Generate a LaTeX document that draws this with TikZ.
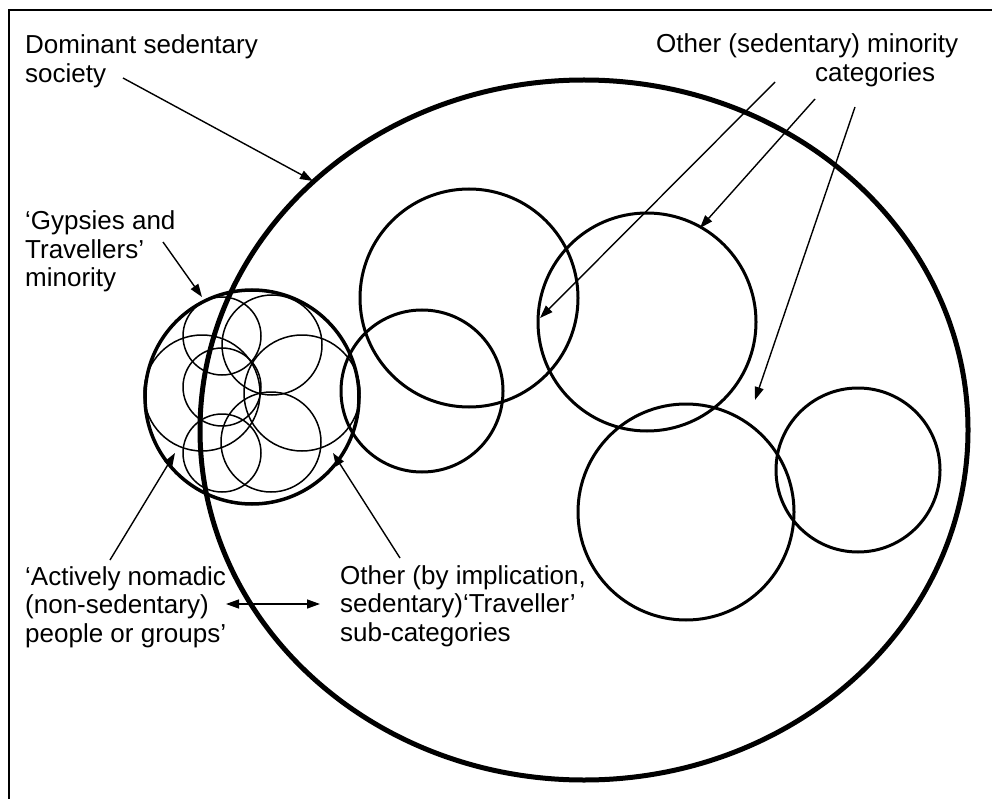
\documentclass[tikz,border=0pt]{standalone}
\usepackage{fontspec}
\setmainfont{Liberation Sans}
\usetikzlibrary{arrows.meta}
\begin{document}
\begin{tikzpicture}[x=1pt,y=-1pt,
  lbl/.style={anchor=base west, inner sep=0pt, font=\fontsize{26}{28.5}\selectfont},
  pointer/.style={line width=1.4pt, -{Triangle[length=13pt,width=9pt]}},
  twoway/.style={line width=1.4pt, {Triangle[length=13pt,width=9pt]}-{Triangle[length=13pt,width=9pt]}},
  society/.style={line width=5pt},
  minority/.style={line width=3pt},
  travgroup/.style={line width=3.5pt},
  subgroup/.style={line width=1.5pt},
  frame/.style={line width=2pt}]
\useasboundingbox (0,0) rectangle (992,799);

% frame of the figure
\draw[frame] (9,799) -- (9,10) -- (992,10);

% labels
\node[lbl] (dom) at (25,54) {\begin{tabular}[t]{@{}l@{}}Dominant sedentary\\ society\end{tabular}};
\node[lbl] (oth1) at (656,53) {Other (sedentary) minority};
\node[lbl] (oth2) at (815,82) {categories};
\node[lbl] (gyp) at (25,230) {\begin{tabular}[t]{@{}l@{}}‘Gypsies and\\ Travellers’\\ minority\end{tabular}};
\node[lbl] (nom) at (25,585) {\begin{tabular}[t]{@{}l@{}}‘Actively nomadic\\ (non-sedentary)\\ people or groups’\end{tabular}};
\node[lbl] (sub) at (340,584) {\begin{tabular}[t]{@{}l@{}}Other (by implication,\\ sedentary)‘Traveller’\\ sub-categories\end{tabular}};

% dominant society
\coordinate (soc) at (584,430);
\draw[society] (soc) ellipse [x radius=384, y radius=350];

% other minority categories
\coordinate (mA) at (469,298);
\coordinate (mB) at (647,322);
\coordinate (mC) at (422,391);
\coordinate (mD) at (686,512);
\coordinate (mE) at (858,470);
\draw[minority] (mA) circle [radius=109];
\draw[minority] (mB) circle [radius=109];
\draw[minority] (mC) circle [radius=81];
\draw[minority] (mD) circle [radius=108];
\draw[minority] (mE) circle [radius=82];

% Gypsies and Travellers minority with its sub-categories
\coordinate (gt) at (252,397);
\draw[travgroup] (gt) circle [radius=107];
\coordinate (s1) at (222,336);
\coordinate (s2) at (272,345);
\coordinate (s3) at (202,393);
\coordinate (s4) at (222,387);
\coordinate (s5) at (302,393);
\coordinate (s6) at (222,453);
\coordinate (s7) at (271,442);
\draw[subgroup] (s1) circle [radius=39];
\draw[subgroup] (s2) circle [radius=50];
\draw[subgroup] (s3) circle [radius=58];
\draw[subgroup] (s4) circle [radius=39];
\draw[subgroup] (s5) circle [radius=58];
\draw[subgroup] (s6) circle [radius=39];
\draw[subgroup] (s7) circle [radius=50];

% pointer ends
\coordinate (domS) at (123,78);   \coordinate (domT) at (313,181);
\coordinate (gypS) at (163,242);  \coordinate (gypT) at (202,297);
\coordinate (nomS) at (110,560);  \coordinate (nomT) at (175,453);
\coordinate (subS) at (400,558);  \coordinate (subT) at (333,453);
\coordinate (o1S) at (775,82);    \coordinate (o1T) at (540,318);
\coordinate (o2S) at (815,99);    \coordinate (o2T) at (700,228);
\coordinate (o3S) at (855,107);   \coordinate (o3T) at (755,400);
\coordinate (bothL) at (226,604); \coordinate (bothR) at (320,604);

\draw[pointer] (domS) -- (domT);
\draw[pointer] (gypS) -- (gypT);
\draw[pointer] (nomS) -- (nomT);
\draw[pointer] (subS) -- (subT);
\draw[pointer] (o1S) -- (o1T);
\draw[pointer] (o2S) -- (o2T);
\draw[pointer] (o3S) -- (o3T);
\draw[twoway] (bothL) -- (bothR);
\end{tikzpicture}
\end{document}
